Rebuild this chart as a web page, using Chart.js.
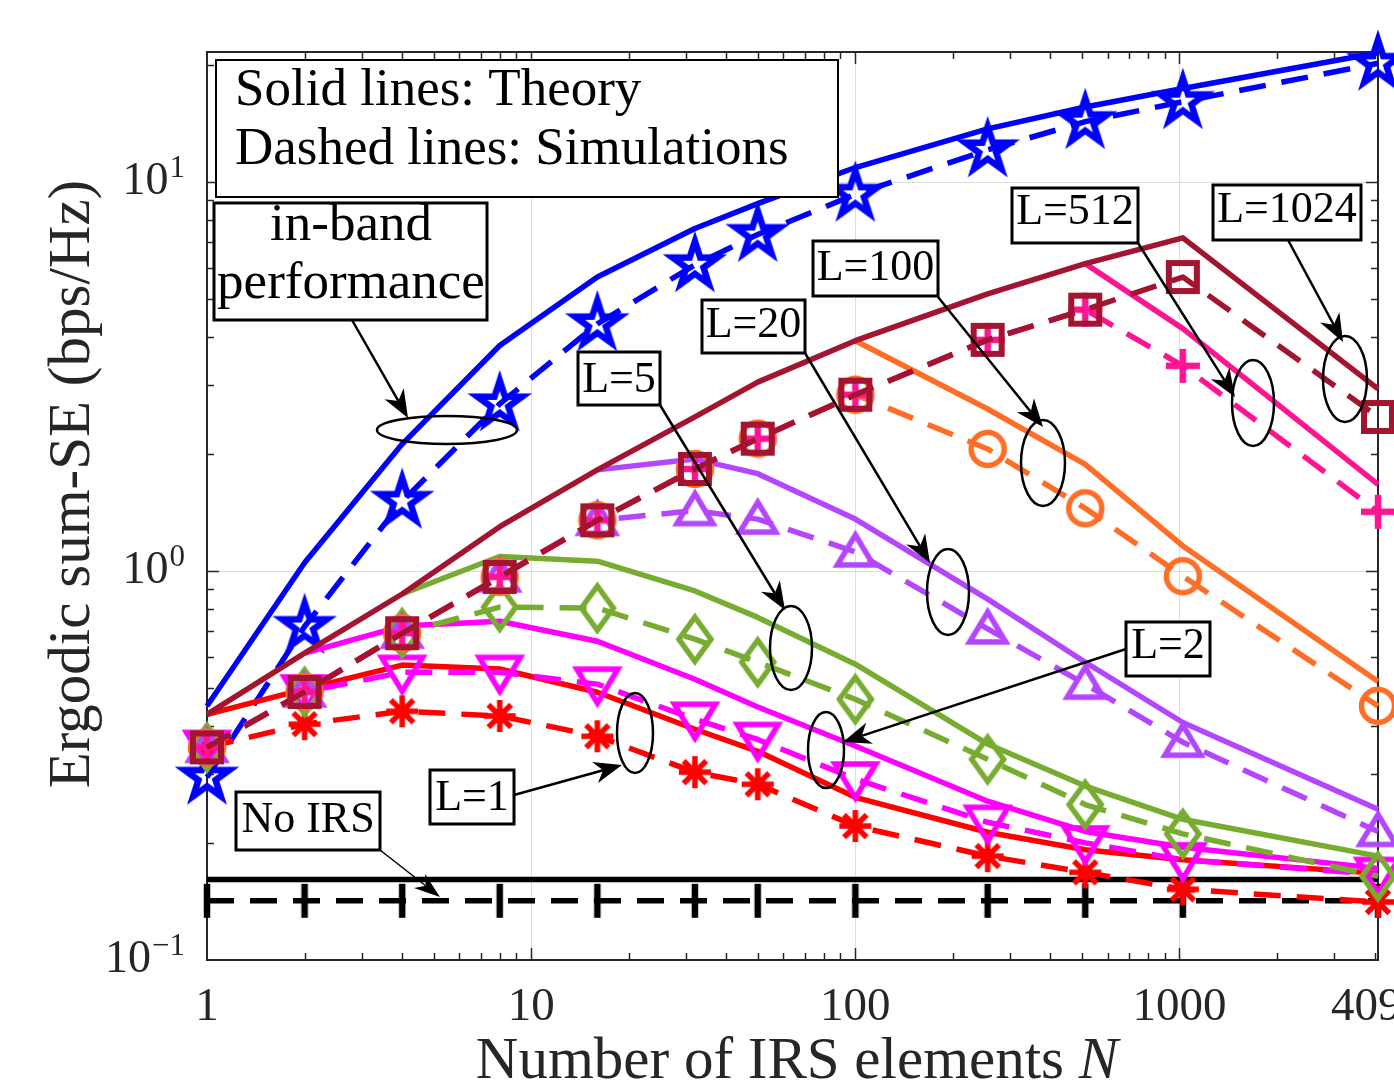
<!DOCTYPE html>
<html lang="en">
<head>
<meta charset="UTF-8">
<title>Ergodic sum-SE versus number of IRS elements</title>
<script src="https://cdn.jsdelivr.net/npm/chart.js"></script>
<style>
  html, body { margin: 0; padding: 0; background: #fff; }
  #wrap { width: 1394px; height: 1088px; }
</style>
</head>
<body>
<div id="wrap"><canvas id="seChart" width="1394" height="1088"></canvas></div>
<script>
// number of IRS elements
const N = [1, 2, 4, 8, 16, 32, 50, 100, 256, 512, 1024, 4096];

// in-band performance
const inbandTheory = [0.45, 1.05, 2.12, 3.80, 5.70, 7.60, 8.80, 10.9, 13.7, 15.6, 17.4, 21.5];
const inbandSim    = [0.295, 0.72, 1.51, 2.69, 4.32, 6.13, 7.33, 9.30, 12.1, 14.3, 16.1, 20.2];

// out-of-band performance for different L (null = not plotted)
const L1024Theory = [0.428, 0.615, 0.873, 1.30, 1.82, 2.49, 3.06, 3.91, 5.16, 6.17, 7.19, 2.94];
const L1024Sim    = [0.352, 0.489, 0.692, 0.966, 1.35, 1.83, 2.19, 2.84, 3.93, 4.70, 5.70, 2.49];
const L512Theory  = [null, null, null, null, null, null, null, null, null, 6.17, 4.20, 1.67];
const L512Sim     = [0.352, 0.489, 0.692, 0.966, 1.35, 1.83, 2.19, 2.84, 3.93, 4.70, 3.37, 1.42];
const L100Theory  = [null, null, null, null, null, null, null, 3.91, 2.61, 1.88, 1.16, 0.52];
const L100Sim     = [0.352, 0.489, 0.692, 0.966, 1.35, 1.83, 2.19, 2.84, 2.06, 1.45, 0.97, 0.45];
const L20Theory   = [null, null, null, null, 1.82, 1.94, 1.78, 1.36, 0.847, 0.583, 0.408, 0.244];
const L20Sim      = [0.352, 0.489, 0.692, 0.966, 1.35, 1.43, 1.36, 1.12, 0.71, 0.512, 0.363, 0.214];
const L5Theory    = [null, null, 0.873, 1.09, 1.06, 0.889, 0.76, 0.576, 0.359, 0.280, 0.230, 0.185];
const L5Sim       = [0.352, 0.489, 0.692, 0.808, 0.803, 0.668, 0.583, 0.468, 0.328, 0.251, 0.211, 0.164];
const L2Theory    = [null, 0.615, 0.722, 0.743, 0.660, 0.527, 0.447, 0.355, 0.256, 0.214, 0.195, 0.172];
const L2Sim       = [0.352, 0.489, 0.549, 0.549, 0.512, 0.416, 0.369, 0.292, 0.226, 0.200, 0.181, 0.166];
const L1Theory    = [0.428, 0.497, 0.573, 0.560, 0.488, 0.392, 0.344, 0.262, 0.213, 0.192, 0.181, 0.167];
const L1Sim       = [0.352, 0.404, 0.436, 0.424, 0.376, 0.304, 0.283, 0.221, 0.185, 0.168, 0.152, 0.141];

// no IRS baseline
const noIrsTheory = [0.161, 0.161, 0.161, 0.161, 0.161, 0.161, 0.161, 0.161, 0.161, 0.161, 0.161, 0.161];
const noIrsSim    = [0.142, 0.142, 0.142, 0.142, 0.142, 0.142, 0.142, 0.142, 0.142, 0.142, 0.142, 0.142];

// axes
const xTicks = [1, 10, 100, 1000, 4096];
const xTickLabels = ['1', '10', '100', '1000', '4096'];
const yTicks = [0.1, 1, 10];
const yTickExp = ['\u22121', '0', '1'];

const C = {
  blue: '#0000ff', red: '#ff0000', magenta: '#ff00ff', green: '#77ac30',
  purple: '#b446ff', orange: '#ff6d26', pink: '#ff1493', darkred: '#a2142f', black: '#000000'
};
const SERIF = '"Liberation Serif", "DejaVu Serif", serif';
const AXIS_INK = '#262626';
const LW = 5.5;

// ---- marker sprites (MATLAB-like symbols) ----
function sprite(w, h, paint) {
  const c = document.createElement('canvas');
  c.width = w; c.height = h;
  const g = c.getContext('2d');
  g.translate(w / 2, h / 2);
  paint(g);
  return c;
}
function poly(g, pts, color, lw) {
  g.beginPath();
  pts.forEach((p, i) => i ? g.lineTo(p[0], p[1]) : g.moveTo(p[0], p[1]));
  g.closePath();
  g.lineWidth = lw; g.strokeStyle = color; g.lineJoin = 'miter'; g.stroke();
}
const mk = {
  pentagram: sprite(80, 80, g => {
    const R = 23.5, r = R * 0.382, pts = [];
    for (let k = 0; k < 10; k++) {
      const a = -Math.PI / 2 + k * Math.PI / 5, rr = k % 2 ? r : R;
      pts.push([rr * Math.cos(a), rr * Math.sin(a)]);
    }
    poly(g, pts, C.blue, 6.5);
  }),
  square: sprite(44, 44, g => poly(g, [[-14, -14], [14, -14], [14, 14], [-14, 14]], C.darkred, 6)),
  circle: sprite(44, 44, g => {
    g.beginPath(); g.arc(0, 0, 16.5, 0, Math.PI * 2);
    g.lineWidth = 5.5; g.strokeStyle = C.orange; g.stroke();
  }),
  triUp: sprite(60, 60, g => poly(g, [[0, -17], [18, 13], [-18, 13]], C.purple, 5.5)),
  triDown: sprite(64, 64, g => poly(g, [[0, 19], [20.5, -15], [-20.5, -15]], C.magenta, 5.5)),
  diamond: sprite(56, 70, g => poly(g, [[0, -22], [16, 0], [0, 22], [-16, 0]], C.green, 5.5)),
  plus: sprite(44, 44, g => {
    g.beginPath(); g.moveTo(-17, 0); g.lineTo(17, 0); g.moveTo(0, -17); g.lineTo(0, 17);
    g.lineWidth = 6.5; g.strokeStyle = C.pink; g.stroke();
  }),
  asterisk: sprite(44, 44, g => {
    g.beginPath();
    for (let k = 0; k < 4; k++) {
      const a = k * Math.PI / 4;
      g.moveTo(-16, 0); g.lineTo(16, 0);
      g.rotate(Math.PI / 4);
    }
    g.lineWidth = 5.5; g.strokeStyle = C.red; g.stroke();
  }),
  vbar: sprite(20, 44, g => {
    g.beginPath(); g.moveTo(0, -17); g.lineTo(0, 17);
    g.lineWidth = 6.5; g.strokeStyle = C.black; g.stroke();
  })
};

// ---- datasets ----
function pts(arr) {
  return N.map((n, i) => ({ x: n, y: arr[i] })).filter(p => p.y !== null);
}
function theory(arr, color) {
  return { data: pts(arr), borderColor: color, borderWidth: LW, borderJoinStyle: 'round',
           pointRadius: 0, fill: false, clip: false, tension: 0 };
}
function sim(arr, color, marker) {
  return { data: pts(arr), borderColor: color, borderWidth: LW, borderDash: [27, 16],
           borderJoinStyle: 'round', pointStyle: marker, pointRadius: 12, pointBorderWidth: 0,
           pointBackgroundColor: color, fill: false, clip: false, tension: 0 };
}

// listed bottom-to-top
const datasets = [
  theory(noIrsTheory, C.black), sim(noIrsSim, C.black, mk.vbar),
  theory(inbandTheory, C.blue), sim(inbandSim, C.blue, mk.pentagram),
  theory(L1Theory, C.red), sim(L1Sim, C.red, mk.asterisk),
  theory(L2Theory, C.magenta), sim(L2Sim, C.magenta, mk.triDown),
  theory(L5Theory, C.green), sim(L5Sim, C.green, mk.diamond),
  theory(L20Theory, C.purple), sim(L20Sim, C.purple, mk.triUp),
  theory(L100Theory, C.orange), sim(L100Sim, C.orange, mk.circle),
  theory(L512Theory, C.pink), sim(L512Sim, C.pink, mk.plus),
  theory(L1024Theory, C.darkred), sim(L1024Sim, C.darkred, mk.square)
];
datasets.forEach((d, i) => { d.order = datasets.length - i; });

// ---- annotations, offsets from the top-left corner of the plot area ----
const callouts = [
  { text: 'L=100',  box: [606, 189, 731, 244], base: 228, from: [731, 245], to: [836, 375], ring: [836, 411, 22, 43] },
  { text: 'L=20',   box: [495, 248, 598, 301], base: 285, from: [598, 301], to: [723, 511], ring: [741, 540, 21, 43] },
  { text: 'L=5',    box: [371, 300, 453, 353], base: 340, from: [453, 353], to: [578, 558], ring: [584, 596, 21, 42] },
  { text: 'L=512',  box: [805, 136, 931, 191], base: 172, from: [931, 191], to: [1028, 345], ring: [1046, 351, 21, 43] },
  { text: 'L=1024', box: [1006, 133, 1154, 188], base: 170, from: [1081, 188], to: [1136, 290], ring: [1138, 327, 22, 43] },
  { text: 'L=2',    box: [919, 570, 1003, 624], base: 606, from: [919, 597], to: [636, 690], ring: [619, 698, 18, 38] },
  { text: 'L=1',    box: [223, 718, 307, 772], base: 758, from: [307, 743], to: [415, 713], ring: [428, 681, 18, 40] }
];

function arrow(g, x1, y1, x2, y2, lw, hl, hw) {
  const a = Math.atan2(y2 - y1, x2 - x1), ux = Math.cos(a), uy = Math.sin(a);
  const bx = x2 - ux * hl, by = y2 - uy * hl;
  const nx = x2 - ux * hl * 0.7, ny = y2 - uy * hl * 0.7;
  g.lineWidth = lw; g.lineCap = 'butt';
  g.beginPath(); g.moveTo(x1, y1); g.lineTo(nx, ny); g.stroke();
  g.beginPath();
  g.moveTo(x2, y2);
  g.lineTo(bx - uy * hw, by + ux * hw);
  g.lineTo(nx, ny);
  g.lineTo(bx + uy * hw, by - ux * hw);
  g.closePath(); g.fill();
}
function textBox(g, x1, y1, x2, y2, lw) {
  g.fillStyle = '#fff'; g.fillRect(x1, y1, x2 - x1, y2 - y1);
  g.lineWidth = lw; g.strokeStyle = '#000'; g.strokeRect(x1, y1, x2 - x1, y2 - y1);
  g.fillStyle = '#000';
}

const axesFrame = {
  id: 'axesFrame',
  beforeDatasetsDraw(chart) {
    const g = chart.ctx, a = chart.chartArea, xs = chart.scales.x, ys = chart.scales.y;
    g.save();
    g.strokeStyle = AXIS_INK; g.lineWidth = 1.5;
    const xMinor = [], yMinor = [];
    for (let e = 0; e <= 3; e++) for (let m = 2; m <= 9; m++) if (m * 10 ** e < 4096) xMinor.push(m * 10 ** e);
    for (let e = -1; e <= 1; e++) for (let m = 2; m <= 9; m++) if (m * 10 ** e < ys.max) yMinor.push(m * 10 ** e);
    g.beginPath();
    const tickX = (v, len) => {
      const px = Math.round(xs.getPixelForValue(v)) + 0.5;
      g.moveTo(px, a.bottom); g.lineTo(px, a.bottom - len);
      g.moveTo(px, a.top); g.lineTo(px, a.top + len);
    };
    const tickY = (v, len) => {
      const py = Math.round(ys.getPixelForValue(v)) + 0.5;
      g.moveTo(a.left, py); g.lineTo(a.left + len, py);
      g.moveTo(a.right, py); g.lineTo(a.right - len, py);
    };
    xMinor.forEach(v => tickX(v, 7));
    [10, 100, 1000].forEach(v => tickX(v, 12));
    yMinor.forEach(v => tickY(v, 7));
    [1, 10].forEach(v => tickY(v, 12));
    g.stroke();
    g.lineWidth = 2;
    g.strokeRect(a.left, a.top, a.right - a.left, a.bottom - a.top);

    // tick labels
    g.fillStyle = AXIS_INK;
    g.font = '47px ' + SERIF; g.textAlign = 'center'; g.textBaseline = 'alphabetic';
    xTicks.forEach((v, i) => g.fillText(xTickLabels[i], xs.getPixelForValue(v), a.bottom + 60));
    yTicks.forEach((v, i) => {
      const py = ys.getPixelForValue(v), right = a.left - 22;
      g.font = '31px ' + SERIF; g.textAlign = 'right';
      const sw = g.measureText(yTickExp[i]).width;
      g.fillText(yTickExp[i], right, py - 5);
      g.font = '46px ' + SERIF;
      g.fillText('10', right - sw - 1, py + 12);
    });

    // axis titles
    const tf = '59px ' + SERIF;
    g.font = tf;
    const t1 = 'Number of IRS elements ';
    const w1 = g.measureText(t1).width;
    g.font = 'italic ' + tf;
    const w2 = g.measureText('N').width;
    const x0 = a.left + 590 - (w1 + w2) / 2;
    g.textAlign = 'left';
    g.font = tf; g.fillText(t1, x0, a.bottom + 118);
    g.font = 'italic ' + tf; g.fillText('N', x0 + w1, a.bottom + 118);
    g.save();
    g.translate(a.left - 118, a.top + 432); g.rotate(-Math.PI / 2);
    g.font = tf; g.textAlign = 'center';
    g.fillText('Ergodic sum-SE (bps/Hz)', 0, 0);
    g.restore();
    g.restore();
  },
  afterDatasetsDraw(chart) {
    const g = chart.ctx, a = chart.chartArea;
    const X = v => a.left + v, Y = v => a.top + v;
    g.save();
    g.strokeStyle = '#000'; g.fillStyle = '#000';
    g.textBaseline = 'alphabetic';

    // legend note
    textBox(g, X(9), Y(8), X(631), Y(145), 2);
    g.font = '53px ' + SERIF; g.textAlign = 'left';
    g.fillText('Solid lines: Theory', X(28), Y(53));
    g.fillText('Dashed lines: Simulations', X(28), Y(112));

    // in-band label
    textBox(g, X(7), Y(151), X(280), Y(268), 3);
    g.textAlign = 'center';
    g.fillText('in-band', X(144), Y(188));
    g.fillText('performance', X(144), Y(246));
    arrow(g, X(145), Y(268), X(201), Y(366), 2.5, 28, 11);
    g.lineWidth = 2.5;
    g.beginPath(); g.ellipse(X(240), Y(378), 70, 14, 0, 0, Math.PI * 2); g.stroke();

    // L callouts
    callouts.forEach(c => {
      textBox(g, X(c.box[0]), Y(c.box[1]), X(c.box[2]), Y(c.box[3]), 3);
      g.font = '44px ' + SERIF; g.textAlign = 'center';
      g.fillText(c.text, X((c.box[0] + c.box[2]) / 2), Y(c.base));
      arrow(g, X(c.from[0]), Y(c.from[1]), X(c.to[0]), Y(c.to[1]), 2.5, 28, 11);
      g.lineWidth = 2.5;
      g.beginPath(); g.ellipse(X(c.ring[0]), Y(c.ring[1]), c.ring[2], c.ring[3], 0, 0, Math.PI * 2); g.stroke();
    });

    // no IRS
    textBox(g, X(29), Y(740), X(173), Y(798), 3);
    g.font = '44px ' + SERIF; g.textAlign = 'center';
    g.fillText('No IRS', X(101), Y(780));
    arrow(g, X(173), Y(798), X(233), Y(845), 1.5, 26, 9);
    g.restore();
  }
};

const gridColor = (edge) => ctx => (edge.includes(ctx.tick && ctx.tick.value) ? 'rgba(0,0,0,0)' : '#dedede');

new Chart(document.getElementById('seChart'), {
  type: 'line',
  data: { datasets },
  options: {
    responsive: false,
    animation: false,
    events: [],
    layout: { padding: { left: 0, right: 16, top: 52, bottom: 0 } },
    plugins: { legend: { display: false }, tooltip: { enabled: false } },
    scales: {
      x: {
        type: 'logarithmic', min: 1, max: 4096, bounds: 'data',
        ticks: { display: false },
        grid: { color: gridColor([1, 4096]), lineWidth: 1, drawTicks: false },
        border: { display: false },
        afterBuildTicks: s => { s.ticks = xTicks.map(v => ({ value: v })); },
        afterFit: s => { s.height = 128; }
      },
      y: {
        type: 'logarithmic', min: 0.1, max: 21.6, bounds: 'data',
        ticks: { display: false },
        grid: { color: gridColor([0.1]), lineWidth: 1, drawTicks: false },
        border: { display: false },
        afterBuildTicks: s => { s.ticks = yTicks.map(v => ({ value: v })); },
        afterFit: s => { s.width = 207; }
      }
    }
  },
  plugins: [axesFrame]
});
</script>
</body>
</html>
